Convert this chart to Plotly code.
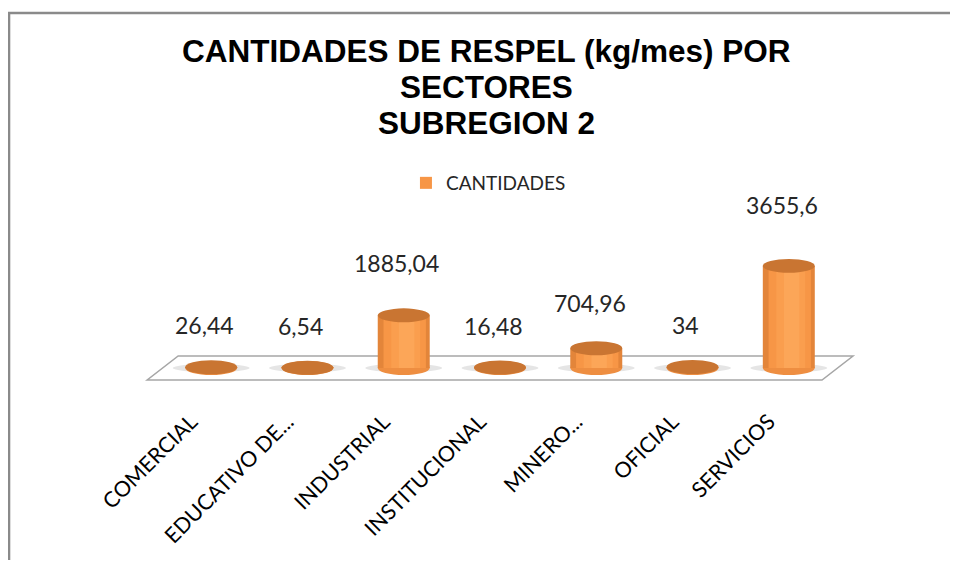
import plotly.graph_objects as go

# data
sectores = ["COMERCIAL", "EDUCATIVO DE...", "INDUSTRIAL", "INSTITUCIONAL",
            "MINERO...", "OFICIAL", "SERVICIOS"]
cantidades = [26.44, 6.54, 1885.04, 16.48, 704.96, 34, 3655.6]
etiquetas = [f"{v:g}".replace(".", ",") for v in cantidades]

x = list(range(len(sectores)))
y_range = [-1146, 7804]
cap = 250  # half-height of the cylinder ellipses, in data units
half_w = 0.27

fig = go.Figure()

# cylinder body: nested bars give a rough left-to-right shading
body = [(0.54, -0.27, "#E3853A", False),
        (0.44, -0.21, "#F79646", True),
        (0.30, -0.13, "#FA9E4E", False),
        (0.16, -0.05, "#FCA658", False)]
for w, off, col, leg in body:
    fig.add_trace(go.Bar(x=x, y=cantidades, width=w, offset=off,
                         marker=dict(color=col, line=dict(width=0)),
                         name="CANTIDADES", showlegend=leg, hoverinfo="skip"))

shapes = []
# floor of the 3D plot
shapes.append(dict(type="path", xref="x", yref="y", layer="below",
                   path="M -0.665,-430 L 6.345,-430 L 6.667,430 L -0.343,430 Z",
                   fillcolor="white", line=dict(color="#A6A6A6", width=1.5)))
for i, v in enumerate(cantidades):
    # soft shadow on the floor
    shapes.append(dict(type="circle", xref="x", yref="y", layer="below",
                       x0=i - 0.40, x1=i + 0.40, y0=-150, y1=150,
                       fillcolor="rgba(0,0,0,0.10)", line=dict(width=0)))
    # rounded bottom of each cylinder
    shapes.append(dict(type="circle", xref="x", yref="y", layer="below",
                       x0=i - half_w, x1=i + half_w, y0=-cap, y1=cap,
                       fillcolor="#EE8E41", line=dict(width=0)))
    # top of each cylinder
    shapes.append(dict(type="circle", xref="x", yref="y", layer="above",
                       x0=i - half_w, x1=i + half_w, y0=v - cap, y1=v + cap,
                       fillcolor="#C97532", line=dict(width=0)))

# outer chart frame: only the top and left edges show in the original
shapes.append(dict(type="path", xref="paper", yref="paper",
                   path="M -0.180,-0.9 L -0.180,1.548 L 1.3,1.548",
                   line=dict(color="#8A8A8A", width=2.5)))

annotations = []
for i, (v, t) in enumerate(zip(cantidades, etiquetas)):
    annotations.append(dict(x=i - 0.07, y=v + 1500 + 0.19 * v, xref="x", yref="y",
                            text=t, showarrow=False,
                            font=dict(family="Lato", size=23, color="#262626")))

titulo = ["CANTIDADES DE RESPEL (kg/mes) POR", "SECTORES", "SUBREGION 2"]
for k, linea in enumerate(titulo):
    annotations.append(dict(x=(478.5 - 131) / 722, y=(392 - (43 + 36 * k)) / 250,
                            xref="paper", yref="paper", text=f"<b>{linea}</b>",
                            showarrow=False, yanchor="middle",
                            font=dict(family="Liberation Sans", size=31.5, color="black")))

fig.update_layout(
    width=942, height=552,
    margin=dict(l=131, r=89, t=142, b=160),
    barmode="overlay",
    paper_bgcolor="white",
    plot_bgcolor="rgba(0,0,0,0)",
    shapes=shapes,
    annotations=annotations,
    showlegend=True,
    legend=dict(orientation="h", x=0.484, xanchor="center", y=0.868, yanchor="middle",
                font=dict(family="Lato", size=19, color="#262626"),
                bgcolor="rgba(0,0,0,0)"),
    xaxis=dict(range=[-0.75, 6.75], tickvals=x, ticktext=sectores, tickangle=-45,
               showgrid=False, zeroline=False, showline=False, ticks="",
               ticklabelstandoff=4, ticklabelshift=-20,
               tickfont=dict(family="Lato", size=21.5, color="black")),
    yaxis=dict(range=y_range, visible=False, showgrid=False, zeroline=False),
)

fig.write_html("out.html")
